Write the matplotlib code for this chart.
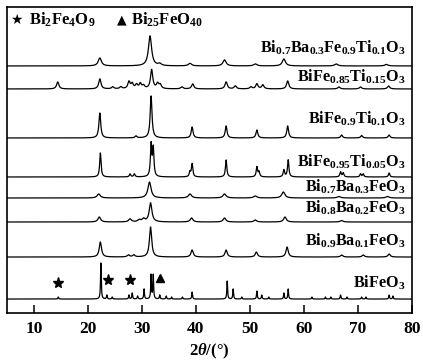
import numpy as np
import matplotlib
matplotlib.use('Agg')
import matplotlib.pyplot as plt

plt.rcParams['font.family'] = ['Liberation Serif', 'DejaVu Serif']
plt.rcParams['font.weight'] = 'bold'
plt.rcParams['mathtext.fontset'] = 'custom'
plt.rcParams['mathtext.rm'] = 'Liberation Serif:bold'
plt.rcParams['mathtext.bf'] = 'Liberation Serif:bold'
plt.rcParams['mathtext.it'] = 'Liberation Serif:italic:bold'

# sample labels, top to bottom
labels = [r'$\mathrm{Bi_{0.7}Ba_{0.3}Fe_{0.9}Ti_{0.1}O_3}$',
          r'$\mathrm{BiFe_{0.85}Ti_{0.15}O_3}$',
          r'$\mathrm{BiFe_{0.9}Ti_{0.1}O_3}$',
          r'$\mathrm{BiFe_{0.95}Ti_{0.05}O_3}$',
          r'$\mathrm{Bi_{0.7}Ba_{0.3}FeO_3}$',
          r'$\mathrm{Bi_{0.8}Ba_{0.2}FeO_3}$',
          r'$\mathrm{Bi_{0.9}Ba_{0.1}FeO_3}$',
          r'$\mathrm{BiFeO_3}$']

# vertical offsets of each pattern (stacked)
offsets = [247, 224, 175, 136, 115, 91, 56, 14]
label_y = [265, 236, 194, 151, 126, 105, 72, 30]

peaks_pos = [
    [22.2, 31.5, 33.3, 38.9, 45.3, 51.0, 56.3, 66.0, 75.3],
    [14.4, 22.2, 24.6, 26.1, 27.6, 28.2, 29.0, 29.7, 30.3, 31.8, 32.9, 33.4,
     37.4, 39.4, 45.6, 47.3, 50.2, 51.3, 52.4, 57.0, 66.5, 70.5, 75.7],
    [22.2, 28.9, 31.7, 39.3, 45.6, 51.3, 57.0, 67.0, 70.7, 75.8],
    [22.3, 27.8, 28.6, 31.7, 32.1, 38.9, 39.3, 45.6, 51.3, 51.7, 56.3, 57.1,
     66.8, 67.3, 70.5, 71.0, 75.8],
    [22.0, 31.4, 38.9, 45.3, 51.0, 56.2, 66.5, 75.5],
    [22.1, 27.8, 29.5, 30.3, 31.6, 39.2, 45.3, 51.0, 56.5, 67.0],
    [22.3, 27.5, 28.5, 31.6, 39.3, 45.6, 51.2, 56.9, 67.0, 71.0, 75.8],
    [14.5, 22.4, 23.5, 24.5, 27.6, 28.2, 29.2, 30.4, 31.7, 32.1, 33.3, 34.5,
     35.5, 37.5, 39.3, 45.8, 46.9, 48.5, 51.3, 52.2, 53.5, 56.3, 57.1, 61.5,
     64.0, 65.0, 66.8, 68.0, 70.7, 71.5, 75.8, 76.5],
]
peaks_int = [
    [8, 30, 2, 2.5, 6, 2, 7, 2, 1.5],
    [7, 10, 2, 2, 7, 5, 4, 5, 3, 19, 5, 4, 2, 5, 7, 3, 2, 5, 4, 8, 2, 2, 3],
    [25, 2, 42, 11, 12, 8, 12, 3, 2.5, 3],
    [24, 3, 3, 32, 28, 5, 13, 17, 10, 5, 7, 17, 5, 4, 3, 3, 4],
    [4, 16, 4, 4, 2, 6, 1.5, 1.5],
    [5, 3, 2, 3, 19, 4, 4, 2, 5, 1.5],
    [15, 2, 2, 30, 7, 7, 5, 10, 2, 2, 3],
    [2, 36, 4, 2, 4, 6, 3, 10, 24, 24, 4, 3, 2, 2, 7, 18, 10, 2, 8, 4, 2, 6,
     10, 2, 2, 2, 4, 2, 2, 2, 4, 3],
]
peak_width = [0.35, 0.25, 0.2, 0.15, 0.35, 0.3, 0.25, 0.08]

# impurity phase marks on BiFeO3 pattern
star_pos = [14.5, 23.8, 27.8]
star_y = [30, 33, 33]
tri_pos = [33.3]
tri_y = [35]

two_theta = np.arange(5, 80.01, 0.01)

fig = plt.figure(figsize=(4.23, 3.64), dpi=100)
ax = fig.add_axes([0.0165, 0.140, 0.957, 0.841])

for i in range(len(labels)):
    y = np.full_like(two_theta, offsets[i], dtype=float)
    for p, h in zip(peaks_pos[i], peaks_int[i]):
        y += h / (1 + ((two_theta - p) / peak_width[i]) ** 2)
    ax.plot(two_theta, y, color='black', lw=0.9)
    ax.text(0.985, label_y[i], labels[i], transform=ax.get_yaxis_transform(),
            ha='right', va='center', fontsize=11.7)

ax.plot(star_pos, star_y, ls='none', marker='*', ms=8, color='black')
ax.plot(tri_pos, tri_y, ls='none', marker='^', ms=5.5, color='black')

# phase legend at top left
ax.text(0.022, 0.958, '\u2605', transform=ax.transAxes, ha='center', va='center',
        fontsize=10, family=['DejaVu Sans'])
ax.text(0.055, 0.958, r'$\mathrm{Bi_2Fe_4O_9}$', transform=ax.transAxes,
        ha='left', va='center', fontsize=12)
ax.text(0.283, 0.958, '\u25B2', transform=ax.transAxes, ha='center', va='center',
        fontsize=9, family=['DejaVu Sans'])
ax.text(0.306, 0.958, r'$\mathrm{Bi_{25}FeO_{40}}$', transform=ax.transAxes,
        ha='left', va='center', fontsize=12)

ax.set_xlim(5, 80)
ax.set_ylim(0, 306)
ax.set_xticks(range(10, 81, 10))
ax.set_yticks([])
ax.tick_params(axis='x', direction='in', length=6, width=1.1, labelsize=12.5, pad=6)
for s in ax.spines.values():
    s.set_linewidth(1.2)
ax.set_xlabel(r'$\mathit{2\theta}$/(°)', fontsize=12, fontweight='bold', labelpad=3)

fig.savefig('out.png', dpi=100)
